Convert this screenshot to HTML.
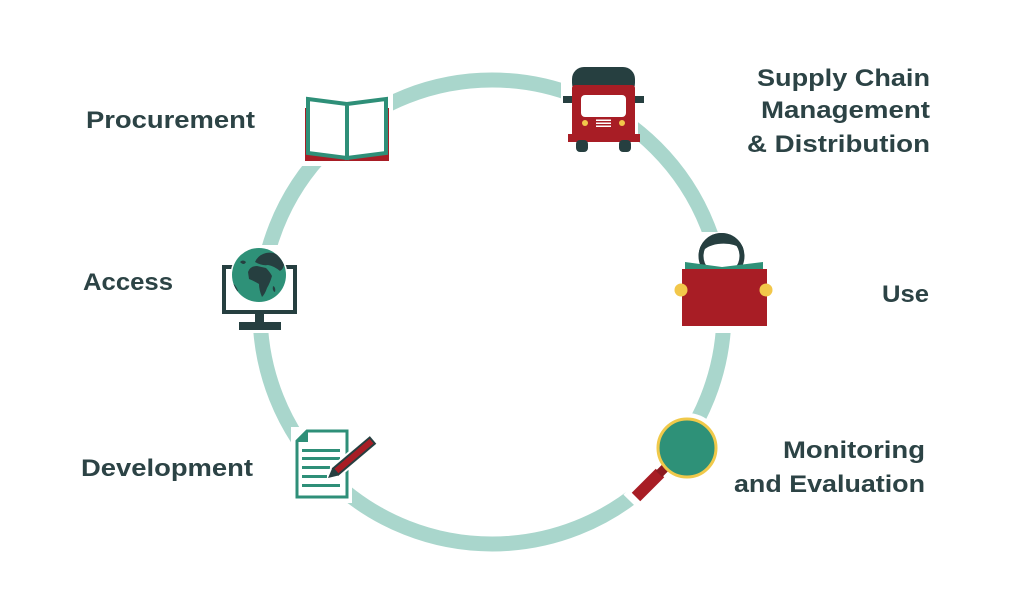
<!DOCTYPE html>
<html><head><meta charset="utf-8"><style>
html,body{margin:0;padding:0;background:#fff;}
svg{display:block;}
text{font-family:"Liberation Sans",Arial,sans-serif;font-weight:bold;font-size:24px;fill:#2c4345;}
</style></head><body>
<svg width="1024" height="600" viewBox="0 0 1024 600" xmlns="http://www.w3.org/2000/svg">
<defs>
<clipPath id="globeClip"><circle cx="259" cy="275" r="27"/></clipPath>
<clipPath id="headClip"><circle cx="721.5" cy="256" r="23"/></clipPath>
</defs>
<rect width="1024" height="600" fill="#fff"/>
<!-- ring -->
<circle cx="492" cy="312" r="232" fill="none" stroke="#a9d6cc" stroke-width="15"/>
<!-- masks -->
<g fill="#fff">
<rect x="300" y="88" width="93" height="78"/>
<rect x="561" y="58" width="77" height="98"/>
<rect x="671" y="232" width="104" height="101"/>
<rect x="214" y="245" width="90" height="88"/>
<rect x="291" y="427" width="61" height="76"/>
<rect x="318" y="430" width="62" height="55"/>
<circle cx="687" cy="448" r="35"/>
<line x1="664" y1="470" x2="632" y2="503" stroke="#fff" stroke-width="24"/>
</g>

<!-- Book (Procurement) -->
<rect x="305" y="108" width="84" height="53" fill="#a81d25"/>
<polygon points="308,99 347,104 347,158 308,153" fill="#fff" stroke="#2e8f78" stroke-width="4" stroke-linejoin="miter"/>
<polygon points="347,104 386,99 386,153 347,158" fill="#fff" stroke="#2e8f78" stroke-width="4" stroke-linejoin="miter"/>

<!-- Truck -->
<rect x="572" y="67" width="63" height="28" rx="12" fill="#263f40"/>
<rect x="572" y="85" width="63" height="52" rx="3" fill="#a81d25"/>
<rect x="568" y="134" width="72" height="8" fill="#a81d25"/>
<rect x="563" y="96" width="9" height="7" fill="#263f40"/>
<rect x="635" y="96" width="9" height="7" fill="#263f40"/>
<rect x="581" y="95" width="45" height="22" rx="4" fill="#fff"/>
<circle cx="585" cy="123" r="3" fill="#f2c74a"/>
<circle cx="622" cy="123" r="3" fill="#f2c74a"/>
<rect x="596" y="119.5" width="15" height="1.5" fill="#fff"/>
<rect x="596" y="122.5" width="15" height="1.5" fill="#fff"/>
<rect x="596" y="125.5" width="15" height="1.5" fill="#fff"/>
<rect x="576" y="140" width="12" height="12" rx="4" fill="#263f40"/>
<rect x="619" y="140" width="12" height="12" rx="4" fill="#263f40"/>

<!-- Use (person reading) -->
<circle cx="721.5" cy="256" r="21" fill="#fff"/>
<g clip-path="url(#headClip)">
<path d="M 697,259 Q 703,246 718,244 Q 734,242 746,251 L 746,228 L 697,228 Z" fill="#263f40"/>
</g>
<circle cx="721.5" cy="256" r="20.5" fill="none" stroke="#263f40" stroke-width="5"/>
<polygon points="685,262 722,267 763,262 763,270 685,270" fill="#2e9178"/>
<rect x="682" y="269" width="85" height="57" fill="#a81d25"/>
<circle cx="681" cy="290" r="6.5" fill="#f2c74a"/>
<circle cx="766" cy="290" r="6.5" fill="#f2c74a"/>

<!-- Magnifier -->
<line x1="660" y1="473" x2="636" y2="497" stroke="#a81d25" stroke-width="12"/>
<line x1="668" y1="465" x2="659" y2="474" stroke="#8c1a20" stroke-width="9"/>
<circle cx="687" cy="448" r="29" fill="#2e9178" stroke="#f0c94a" stroke-width="3"/>

<!-- Globe monitor -->
<rect x="224" y="267" width="71" height="45" fill="#fff" stroke="#263f40" stroke-width="4"/>
<rect x="255" y="313" width="9" height="10" fill="#263f40"/>
<rect x="239" y="322" width="42" height="8" fill="#263f40"/>
<circle cx="259" cy="275" r="28.5" fill="#fff"/>
<circle cx="259" cy="275" r="27" fill="#2e9178"/>
<g clip-path="url(#globeClip)" fill="#263f40">
<path d="M 248,272 Q 250,266 257,266 L 266,268 Q 270,272 272,276 Q 270,283 267,288 Q 265,294 262,297 Q 259,290 259,284 Q 254,281 249,279 Z"/>
<path d="M 255,262 Q 258,255 266,253 Q 277,251 284,261 Q 285,268 280,271 Q 274,266 268,265 Q 262,266 255,262 Z"/>
<path d="M 240,262 q 3,-3 6,0 q -2,4 -6,0 z"/>
<path d="M 232,283 q 4,2 6,8 q -3,2 -6,-2 z"/>
<path d="M 273,286 q 3,1 2,6 q -3,-1 -2,-6 z"/>
<path d="M 270,250 q 6,-2 10,2 q -5,2 -10,-2 z"/>
</g>

<!-- Document -->
<path d="M 307,431 L 347,431 L 347,497 L 297,497 L 297,441 Z" fill="#fff" stroke="#2e8f78" stroke-width="3"/>
<polygon points="296,442 308,442 308,430" fill="#2e8f78"/>
<rect x="302" y="449" width="38" height="3" fill="#2e8f78"/>
<rect x="302" y="457" width="38" height="3" fill="#2e8f78"/>
<rect x="302" y="466" width="28" height="3" fill="#2e8f78"/>
<rect x="302" y="475" width="25" height="3" fill="#2e8f78"/>
<rect x="302" y="484" width="38" height="3" fill="#2e8f78"/>
<g transform="translate(328,478) rotate(-40.2)">
<polygon points="-2,0 9,-7 60,-7 60,7 9,7" fill="#fff"/>
<polygon points="0,0 10,-5 10,5" fill="#263f40"/>
<rect x="9" y="-5" width="50" height="10" fill="#263f40"/>
<rect x="11" y="-3" width="46" height="6" fill="#a81d25"/>
</g>

<!-- Labels -->
<text x="86" y="128" textLength="169" lengthAdjust="spacingAndGlyphs">Procurement</text>
<text x="83" y="290" textLength="90" lengthAdjust="spacingAndGlyphs">Access</text>
<text x="81" y="476" textLength="172" lengthAdjust="spacingAndGlyphs">Development</text>
<text x="757" y="86" textLength="173" lengthAdjust="spacingAndGlyphs">Supply Chain</text>
<text x="761" y="118" textLength="169" lengthAdjust="spacingAndGlyphs">Management</text>
<text x="747" y="152" textLength="183" lengthAdjust="spacingAndGlyphs">&amp; Distribution</text>
<text x="882" y="302" textLength="47" lengthAdjust="spacingAndGlyphs">Use</text>
<text x="783" y="458" textLength="142" lengthAdjust="spacingAndGlyphs">Monitoring</text>
<text x="734" y="492" textLength="191" lengthAdjust="spacingAndGlyphs">and Evaluation</text>
</svg>
</body></html>
